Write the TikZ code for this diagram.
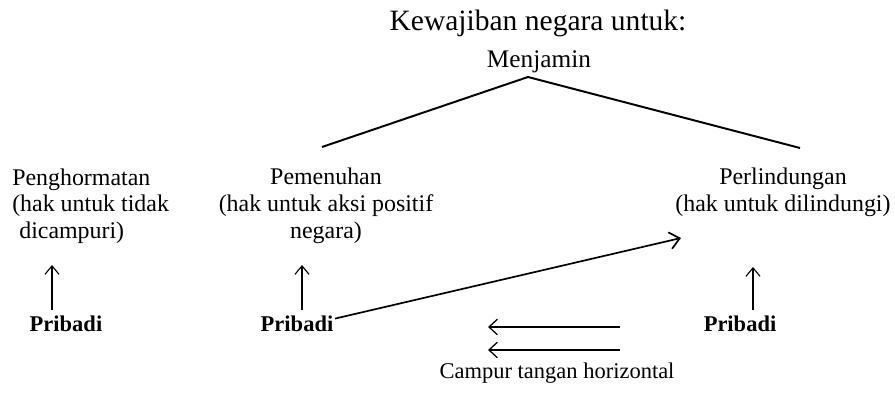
\documentclass[tikz,border=0pt]{standalone}
\usepackage{fontspec}
\setmainfont{Liberation Serif}
\usetikzlibrary{arrows.meta}
\begin{document}
\begin{tikzpicture}[x=0.025cm, y=-0.025cm,
  body/.style={inner sep=0pt, font=\fontsize{17}{19}\selectfont},
  who/.style={inner sep=0pt, font=\fontsize{16}{19}\selectfont\bfseries},
  uparrow/.style={-{Straight Barb[length=6pt,width=10pt]}, line width=0.8pt, shorten <=4pt},
  tent/.style={line width=1.4pt}]
\useasboundingbox (0,0) rectangle (895,394);
\node[inner sep=0pt, font=\fontsize{21}{24}\selectfont] (judul) at (538,23) {Kewajiban negara untuk:};
\node[inner sep=0pt, font=\fontsize{18}{20}\selectfont] (jamin) at (539,62) {Menjamin};
\coordinate (apex) at (528,77);
\coordinate (tentL) at (322,147);
\coordinate (tentR) at (800,148);
\draw[tent] (tentL) -- (apex) -- (tentR);
\node[body, align=left, anchor=west] (hormat) at (12,206) {Penghormatan\\(hak untuk tidak\\\hspace*{5pt}dicampuri)};
\node[body, align=center] (penuh) at (326,206) {Pemenuhan\\(hak untuk aksi positif\\negara)};
\node[body, align=center] (lindung) at (783,192) {Perlindungan\\(hak untuk dilindungi)};
\node[who] (pribA) at (66,324) {Pribadi};
\node[who] (pribB) at (297,324) {Pribadi};
\node[who] (pribC) at (740,324) {Pribadi};
\coordinate (upA) at (52,265);
\coordinate (upB) at (302,265);
\coordinate (upC) at (753,267);
\draw[uparrow] (pribA.north -| upA) -- (upA);
\draw[uparrow] (pribB.north -| upB) -- (upB);
\draw[uparrow] (pribC.north -| upC) -- (upC);
\coordinate (lindTip) at (681,238);
\draw[-{Straight Barb[length=7pt,width=12pt]}, line width=1.2pt] ([shift={(1pt,-2pt)}]pribB.north east) -- (lindTip);
\coordinate (hzA) at (620,327);
\coordinate (hzB) at (488,327);
\coordinate (hzC) at (620,350);
\coordinate (hzD) at (488,350);
\draw[-{Straight Barb[length=6pt,width=11pt]}, line width=0.9pt] (hzA) -- (hzB);
\draw[-{Straight Barb[length=6pt,width=11pt]}, line width=0.9pt] (hzC) -- (hzD);
\node[inner sep=0pt, font=\fontsize{16}{19}\selectfont] (campur) at (557,373) {Campur tangan horizontal};
\end{tikzpicture}
\end{document}
